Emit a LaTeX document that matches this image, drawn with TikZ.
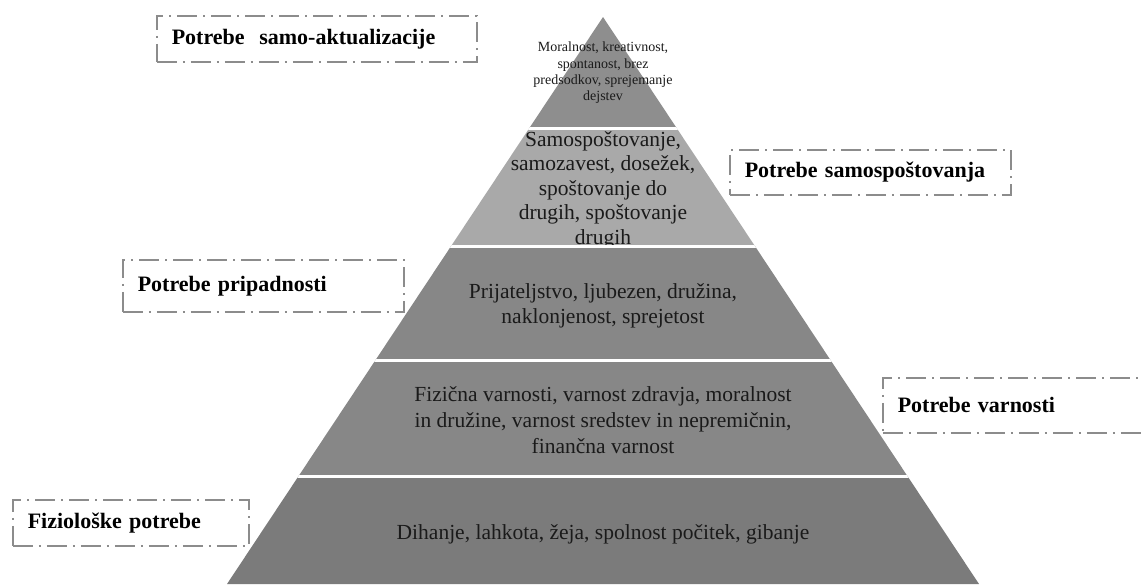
\documentclass[tikz,border=0pt]{standalone}
\usepackage{fontspec}
\setmainfont{Liberation Serif}
\definecolor{boxgray}{HTML}{8C8C8C}
\definecolor{layA}{HTML}{8E8E8E}
\definecolor{layB}{HTML}{A9A9A9}
\definecolor{layC}{HTML}{878787}
\definecolor{layD}{HTML}{878787}
\definecolor{layE}{HTML}{7B7B7B}
\definecolor{inkc}{HTML}{1A1A1A}
\begin{document}
\begin{tikzpicture}[x=1pt,y=-1pt,
  labelbox/.style={draw=boxgray, line width=1.5pt,
    dash pattern=on 20pt off 6pt on 2pt off 6pt,
    anchor=north west, inner xsep=15pt, inner ysep=0pt, align=left,
    font=\fontsize{22}{24}\selectfont\bfseries, text=black},
  ptext/.style={align=center, inner sep=0pt, text=inkc,
    font=\fontsize{21.5}{24.5}\selectfont},
  sep/.style={white, line width=3pt}]
\useasboundingbox (0,0) rectangle (1142,584);
% pyramid
\coordinate (apex) at (603,17);
\coordinate (bl) at (227,584);
\coordinate (br) at (979,584);
\begin{scope}
  \clip (apex) -- (br) -- (bl) -- cycle;
  \fill[layA] (0,0) rectangle (1142,128);
  \fill[layB] (0,128) rectangle (1142,246);
  \fill[layC] (0,246) rectangle (1142,360);
  \fill[layD] (0,360) rectangle (1142,476);
  \fill[layE] (0,476) rectangle (1142,600);
\end{scope}
\node[ptext, font=\fontsize{14}{16.3}\selectfont] (t1) at (603,73)
  {Moralnost, kreativnost,\\spontanost, brez\\predsodkov, sprejemanje\\dejstev};
\begin{scope}
  \clip (0,128) rectangle (1142,245);
  \node[ptext] (t2) at (603,190)
    {Samospoštovanje,\\samozavest, dosežek,\\spoštovanje do\\drugih, spoštovanje\\drugih};
\end{scope}
\node[ptext] (t3) at (603,306)
  {Prijateljstvo, ljubezen, družina,\\naklonjenost, sprejetost};
\node[ptext, font=\fontsize{21.5}{26}\selectfont] (t4) at (603,420)
  {Fizična varnosti, varnost zdravja, moralnost\\in družine, varnost sredstev in nepremičnin,\\finančna varnost};
\node[ptext] (t5) at (603,534)
  {Dihanje, lahkota, žeja, spolnost počitek, gibanje};
\begin{scope}
  \clip (apex) -- (br) -- (bl) -- cycle;
  \draw[sep] (0,128) -- (1142,128);
  \draw[sep] (0,246) -- (1142,246);
  \draw[sep] (0,360) -- (1142,360);
  \draw[sep] (0,476) -- (1142,476);
\end{scope}
% labels
\node[labelbox, text width=290pt, minimum height=46pt] (sa) at (156,15)
  {Potrebe~ samo-aktualizacije};
\node[labelbox, text width=251pt, minimum height=45pt] (ss) at (729,149)
  {Potrebe samospoštovanja};
\node[labelbox, text width=251pt, minimum height=52pt] (pp) at (122,259)
  {Potrebe pripadnosti};
\node[labelbox, text width=270pt, minimum height=55pt] (pv) at (882,377)
  {Potrebe varnosti};
\node[labelbox, text width=206pt, minimum height=46pt] (fp) at (12,499)
  {Fiziološke potrebe};
\end{tikzpicture}
\end{document}
